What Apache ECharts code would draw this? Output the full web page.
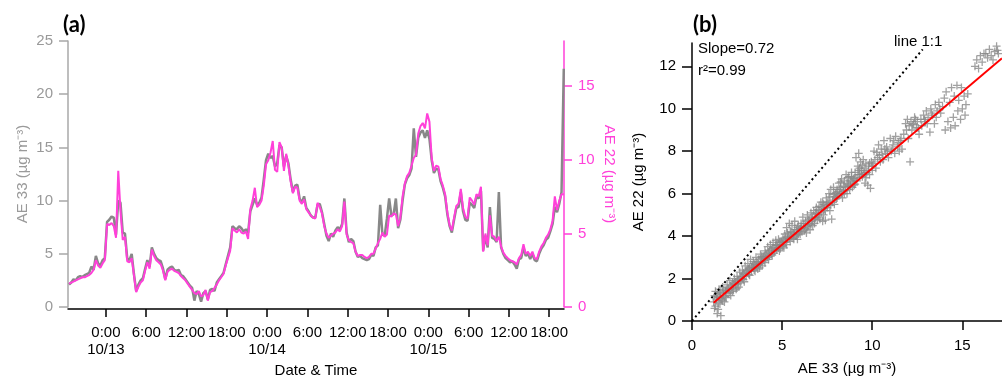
<!DOCTYPE html>
<html>
<head>
<meta charset="utf-8">
<script src="https://cdn.jsdelivr.net/npm/echarts@6.0.0/dist/echarts.min.js"></script>
<style>
  html, body { margin: 0; padding: 0; background: #ffffff; }
  #chart { width: 1002px; height: 379px; }
</style>
</head>
<body>
<div id="chart"></div>
<script>
// ---- Time series: black carbon from two aethalometers, 20-minute samples ----
// hours relative to 10/13 0:00
const timeStartHour = -5.5;
const timeStepHour = 1 / 3;

// AE33 (µg m-3), left axis
const ae33 = [
  2.1, 2.3, 2.6, 2.5, 2.8, 2.9, 2.8, 3.0, 3.1, 3.2,
  3.8, 3.5, 4.8, 4.1, 3.9, 4.4, 4.6, 8.0, 8.2, 8.5,
  8.4, 6.8, 10.0, 9.8, 7.0, 6.9, 4.6, 4.4, 5.0, 3.1,
  1.5, 2.1, 2.5, 2.7, 3.6, 4.4, 3.8, 5.6, 5.0, 4.6,
  4.4, 4.3, 3.6, 2.6, 3.5, 3.7, 3.8, 3.5, 3.4, 3.5,
  3.0, 2.9, 2.6, 2.3, 2.0, 1.8, 0.6, 1.5, 1.2, 0.5,
  1.3, 1.5, 0.7, 1.6, 1.7, 1.5, 2.3, 2.6, 2.9, 3.2,
  4.0, 4.8, 5.6, 7.6, 7.4, 7.3, 7.6, 7.4, 7.1, 7.3,
  7.0, 9.0, 9.6, 10.2, 9.6, 9.8, 10.3, 12.0, 13.8, 14.4,
  14.0, 14.2, 13.2, 13.5, 15.2, 15.0, 13.2, 14.2, 13.5, 12.0,
  10.8, 11.4, 11.5, 10.2, 9.8, 10.4, 9.3, 9.0, 8.6, 8.4,
  8.4, 9.6, 9.7, 8.9, 7.8, 6.7, 6.2, 6.9, 6.6, 7.2,
  7.5, 7.3, 7.8, 10.2, 7.0, 6.1, 6.4, 6.2, 5.2, 4.7,
  4.8, 4.6, 4.5, 4.4, 4.5, 4.9, 4.8, 5.6, 5.8, 9.6,
  6.8, 6.7, 8.3, 10.2, 8.6, 8.7, 10.2, 7.4, 8.2, 10.0,
  11.5, 12.1, 12.4, 13.0, 16.8, 14.1, 15.9, 16.4, 16.6, 15.9,
  16.6, 15.8, 13.8, 12.6, 13.0, 12.9, 11.8, 11.2, 10.4, 8.7,
  7.6, 7.0, 8.2, 9.3, 9.4, 10.8, 9.0, 8.2, 8.1, 9.8,
  9.6, 9.3, 10.4, 10.2, 10.9, 5.3, 6.7, 5.6, 9.4, 6.5,
  6.4, 6.1, 10.8, 5.6, 5.0, 4.6, 4.4, 4.2, 4.3, 4.0,
  3.6, 4.5, 4.6, 5.6, 4.8, 5.0, 4.5, 5.0, 4.4, 4.3,
  5.0, 5.5, 5.8, 6.3, 6.5, 7.1, 7.8, 9.4, 8.9, 9.7,
  10.8, 22.4
];

// AE22 (µg m-3), right axis
const ae22 = [
  1.59, 1.66, 1.73, 1.81, 1.88, 1.95, 2.02, 2.02, 2.10, 2.17,
  2.31, 2.53, 3.18, 2.82, 2.67, 2.96, 3.18, 5.64, 5.57, 5.71,
  5.49, 4.70, 9.25, 6.51, 4.55, 4.77, 3.11, 3.04, 3.32, 2.17,
  1.01, 1.37, 1.66, 1.81, 2.46, 3.04, 2.60, 3.90, 3.47, 3.18,
  3.04, 2.89, 2.46, 1.81, 2.39, 2.53, 2.60, 2.46, 2.39, 2.31,
  2.10, 1.95, 1.81, 1.59, 1.37, 1.16, 0.94, 0.87, 1.08, 0.72,
  0.80, 1.16, 0.43, 1.01, 1.08, 1.30, 1.52, 1.81, 2.02, 2.24,
  2.82, 3.32, 3.83, 5.35, 5.20, 5.06, 5.28, 5.06, 4.99, 5.13,
  4.63, 6.65, 7.23, 8.10, 6.79, 6.94, 7.23, 8.24, 9.69, 9.97,
  10.48, 11.28, 9.32, 9.18, 11.20, 10.84, 9.25, 10.41, 9.61, 8.53,
  7.73, 8.17, 8.10, 7.23, 7.01, 7.30, 6.65, 6.43, 6.22, 6.07,
  6.00, 7.08, 6.79, 6.36, 5.49, 4.99, 4.70, 4.84, 4.99, 5.06,
  5.28, 5.13, 5.49, 7.16, 4.92, 4.55, 4.41, 4.34, 3.76, 3.47,
  3.54, 3.54, 3.40, 3.32, 3.40, 3.61, 3.61, 3.98, 4.34, 4.63,
  5.06, 4.77, 4.92, 6.22, 6.14, 6.36, 6.29, 5.49, 6.07, 7.52,
  8.38, 8.89, 9.11, 9.61, 10.12, 10.34, 11.78, 12.29, 12.50, 12.14,
  13.15, 12.58, 10.12, 9.25, 9.61, 9.54, 8.67, 8.24, 7.66, 6.43,
  5.57, 5.20, 6.07, 6.87, 7.01, 8.02, 6.72, 6.14, 6.00, 7.44,
  7.23, 6.94, 7.66, 7.52, 8.17, 3.76, 4.99, 4.19, 6.22, 4.84,
  4.77, 4.48, 4.77, 4.12, 3.69, 3.47, 3.32, 3.18, 3.11, 3.04,
  2.89, 3.32, 3.54, 4.26, 3.61, 3.76, 3.47, 3.76, 3.32, 3.25,
  3.76, 4.12, 4.34, 4.70, 4.92, 5.28, 5.85, 7.52, 6.58, 7.23,
  7.66, 7.66
];

const timeTickHours = [0, 6, 12, 18, 24, 30, 36, 42, 48, 54, 60, 66];
const timeTickLabels = [
  '0:00\n10/13', '6:00', '12:00', '18:00',
  '0:00\n10/14', '6:00', '12:00', '18:00',
  '0:00\n10/15', '6:00', '12:00', '18:00'
];
const ae33Ticks = [0, 5, 10, 15, 20, 25];
const ae22Ticks = [0, 5, 10, 15];

// ---- Scatter: AE33 vs AE22, [AE33, AE22] pairs ----
const scatterPairs = [
  [1.2,0.9],[1.25,1.2],[1.3,0.7],[1.3,1.4],[1.35,1.0],[1.4,0.35],[1.45,0.55],[1.5,1.1],[1.5,1.5],[1.55,0.8],
  [1.6,1.3],[1.6,0.25],[1.65,1.0],[1.7,1.6],[1.75,1.2],[1.8,0.9],[1.85,1.4],[1.9,1.1],[1.95,1.7],[2.0,1.3],
  [2.05,1.5],[2.1,1.9],[2.15,1.2],[2.2,1.6],[2.25,1.8],[2.3,1.45],[2.35,2.0],[2.4,1.7],[2.45,1.5],[2.5,2.1],
  [2.55,1.75],[2.6,1.9],[2.65,2.3],[2.7,1.8],[2.75,2.1],[2.8,2.4],[2.85,1.95],[2.9,2.2],[2.95,2.6],[3.0,2.1],
  [3.05,2.4],[3.1,2.7],[3.15,2.2],[3.2,2.5],[3.25,2.9],[3.3,2.35],[3.35,2.6],[3.4,2.8],[3.45,2.4],[3.5,2.65],
  [3.55,3.0],[3.6,2.55],[3.65,2.75],[3.7,2.9],[3.75,2.5],[3.8,3.15],[3.85,2.8],[3.9,2.6],[3.95,3.0],[4.0,2.85],
  [4.05,3.3],[4.1,2.95],[4.15,3.1],[4.2,3.5],[4.25,2.9],[4.3,3.3],[4.35,3.6],[4.4,3.15],[4.45,3.4],[4.5,3.7],
  [4.55,3.2],[4.6,3.45],[4.65,3.8],[4.7,3.35],[4.75,3.55],[4.8,3.85],[4.85,3.3],[4.9,3.6],[4.95,3.75],[5.0,3.5],
  [5.05,3.9],[5.1,3.45],[5.15,4.1],[5.2,3.7],[5.25,4.4],[5.3,3.85],[5.35,4.0],[5.4,4.6],[5.45,3.75],[5.5,4.2],
  [5.55,4.5],[5.6,3.9],[5.65,4.1],[5.7,4.7],[5.75,4.0],[5.8,4.3],[5.85,3.85],[5.9,4.5],[5.95,4.2],[6.0,4.35],
  [6.05,4.6],[6.1,4.2],[6.15,4.9],[6.2,4.4],[6.3,4.7],[6.35,4.15],[6.4,5.0],[6.45,4.5],[6.5,4.8],[6.55,4.3],
  [6.6,5.1],[6.65,4.7],[6.7,4.5],[6.75,5.2],[6.8,4.6],[6.85,4.9],[6.9,5.35],[6.95,4.75],[7.0,5.0],
  [7.05,5.4],[7.1,4.8],[7.15,5.6],[7.2,5.1],[7.25,4.7],[7.3,5.5],[7.35,5.3],[7.4,4.75],[7.45,5.8],[7.5,5.35],
  [7.55,5.6],[7.6,6.0],[7.65,5.2],[7.7,6.2],[7.75,4.8],[7.8,5.7],[7.85,6.3],[7.9,5.5],[7.95,6.0],[8.0,5.75],
  [8.05,6.2],[8.1,5.9],[8.15,6.5],[8.2,6.0],[8.25,6.3],[8.3,6.7],[8.35,5.8],[8.4,6.1],[8.45,6.6],[8.5,6.3],
  [8.55,6.9],[8.6,6.0],[8.65,6.4],[8.7,6.8],[8.75,6.2],[8.8,6.6],[8.85,7.0],[8.9,6.3],[8.95,6.7],[9.0,6.4],
  [9.05,7.0],[9.1,7.7],[9.15,6.6],[9.2,7.3],[9.25,7.9],[9.3,6.9],[9.35,7.5],[9.4,7.1],[9.45,6.8],[9.5,7.6],
  [9.55,7.2],[9.6,6.5],[9.65,7.4],[9.7,7.0],[9.75,6.4],[9.8,7.3],[9.85,6.9],[9.9,6.25],[9.95,7.5],[10.0,7.1],
  [10.05,7.4],[10.1,8.0],[10.2,7.2],[10.3,7.7],[10.35,8.3],[10.45,7.5],[10.5,8.1],[10.6,7.6],[10.65,8.5],[10.75,7.9],
  [10.8,8.2],[10.9,7.7],[11.0,8.6],[11.05,8.0],
  [11.15,8.3],[11.25,7.9],[11.3,8.7],[11.4,8.2],[11.5,8.0],[11.55,8.5],[11.65,8.1],[11.75,8.8],[11.85,9.3],[11.9,9.0],
  [11.95,9.5],[12.0,8.6],[12.1,7.5],
  [12.05,9.2],[12.15,9.4],[12.2,9.0],[12.3,9.3],[12.35,9.6],[12.45,9.1],[12.5,9.4],[12.6,8.8],[12.7,9.5],[12.75,9.2],
  [12.85,9.7],[12.95,9.4],[13.0,9.9],[13.1,9.6],[13.2,8.9],[13.25,10.0],[13.35,9.7],[13.45,9.3],[13.5,10.2],[13.6,9.9],
  [13.7,10.3],[13.8,9.8],[13.9,10.1],
  [14.0,10.5],[14.05,9.0],[14.1,10.8],[14.2,9.4],[14.3,10.3],[14.35,9.1],[14.4,11.0],[14.5,9.6],[14.55,10.6],[14.6,9.2],
  [14.7,11.1],[14.75,9.9],[14.8,10.4],[14.9,9.5],[14.95,11.0],[15.0,10.0],[15.1,10.6],[15.15,9.7],[15.2,10.2],[15.3,10.7],
  [15.7,12.0],[15.8,12.3],[15.9,11.9],[16.0,12.5],[16.1,12.2],[16.2,12.6],[16.4,12.4],[16.5,12.8],[16.6,12.5],[16.8,12.7],
  [16.9,12.95],[17.0,12.6],
  [1.25,0.6],[1.4,1.25],[1.55,1.35],[1.7,0.95],[1.9,1.45],[2.1,1.35],[2.3,1.75],[2.5,1.55],[2.7,2.05],[2.9,1.85],
  [3.1,2.3],[3.3,2.55],[3.5,2.35],[3.7,2.65],[3.9,2.95],[4.1,3.2],[4.3,3.05],[4.5,3.45],[4.7,3.6],[4.9,3.4],
  [5.1,3.8],[5.3,4.15],[5.5,3.95],[5.7,4.3],[5.9,4.1],[6.1,4.45],[6.3,4.35],[6.5,4.6],[6.7,4.85],[6.9,5.05],
  [7.1,5.2],[7.3,5.0],[7.5,5.55],[7.7,5.45],[7.9,5.85],[8.1,6.1],[8.3,6.0],[8.5,6.15],[8.7,6.45],[8.9,6.55],
  [9.1,6.75],[9.3,7.2],[9.5,6.95],
  [1.35,1.15],[1.45,0.85],[1.6,1.05],[1.75,1.45],[1.85,1.15],[2.0,1.55],[2.15,1.65],[2.25,1.4],[2.4,1.85],[2.55,1.95],
  [2.6,1.6],[2.8,2.0],[2.85,2.25],[3.0,2.35],[3.15,2.45],[3.2,2.15],[3.4,2.5],[3.45,2.7],[3.6,2.8],[3.65,2.45],
  [3.8,2.7],[3.85,3.05],[4.0,3.05],[4.05,2.75],[4.2,3.0],[4.25,3.25],[4.4,3.35],[4.45,3.1],[4.6,3.3],[4.65,3.55],
  [4.8,3.45],[4.85,3.7],[5.0,3.7],[5.05,3.55],[5.2,3.95],[5.25,3.6],[5.4,3.9],[5.45,4.2],[5.6,4.15],[5.65,3.85],
  [5.8,4.05],[5.85,4.4],[6.0,4.1],[6.05,4.35],[6.2,4.6],[6.25,4.25],[6.4,4.45],[6.45,4.75],[6.6,4.55],[6.65,4.9],
  [6.8,4.8],[6.85,5.1],[7.0,5.25],[7.05,4.9],[7.2,5.35],[7.25,5.6],[7.4,5.2],[7.45,5.45],[7.6,5.5],[7.65,5.85],
  [7.8,5.6],[7.85,5.95],[8.0,6.05],[8.05,5.8],[8.2,6.2],[8.25,6.55],[8.4,6.35],[8.45,6.0],[8.6,6.5],[8.65,6.75],
  [8.8,6.35],[8.85,6.8],[9.0,6.7],[9.05,6.45],[9.2,6.9],[9.25,7.1],[9.4,6.9],[9.45,7.35],[9.6,7.0],[9.65,6.75],
  [9.8,7.1],[9.85,7.45],[10.0,7.3],[10.15,7.6],[10.25,7.95],[10.4,7.8],[10.55,7.85],[10.7,8.1],[10.85,8.0],[11.1,8.1],
  [11.2,8.5],[11.45,8.4],[11.6,8.6],[12.25,9.25],[12.4,9.5],[12.55,9.1],[12.9,9.5],[13.05,9.3],[13.3,9.8],[13.55,9.6],
  [13.75,10.0],[16.3,12.6],[16.7,12.3],[16.95,12.75]
];

// linear fit and 1:1 reference
const fitSlope = 0.72;
const fitIntercept = 0.0;
const fitR2 = 0.99;
const fitRangeAE33 = [1.2, 17.2];
const oneToOneEnd = 12.8;

const scatterXTicks = [0, 5, 10, 15];
const scatterYTicks = [0, 2, 4, 6, 8, 10, 12];

const GRAY = '#888888';
const PINK = '#ff40d9';
const FONT = 'Liberation Sans';

// "+" marker drawn as a filled cross
const plusSymbol = 'path://M4.2,0H5.8V4.2H10V5.8H5.8V10H4.2V5.8H0V4.2H4.2Z';

const chart = echarts.init(document.getElementById('chart'), null, { renderer: 'canvas' });

const tsData = (arr) => arr.map((v, i) => [timeStartHour + i * timeStepHour, v]);

chart.setOption({
  animation: false,
  textStyle: { fontFamily: FONT },
  grid: [
    { left: 68, top: 41, width: 496, height: 266, containLabel: false, outerBoundsMode: 'none' },
    { left: 692, top: 43, width: 310, height: 278, containLabel: false, outerBoundsMode: 'none' }
  ],
  xAxis: [
    {
      gridIndex: 0, type: 'value', min: -5.65, max: 68.2, offset: 2,
      axisLine: { onZero: false, lineStyle: { color: '#000', width: 1.5 } },
      axisTick: { customValues: timeTickHours, length: 8, lineStyle: { color: '#000', width: 1.5 } },
      axisLabel: {
        customValues: timeTickHours,
        formatter: (v) => timeTickLabels[timeTickHours.indexOf(v)],
        color: '#000', fontSize: 15, lineHeight: 17, margin: 15, fontFamily: FONT
      },
      splitLine: { show: false },
      name: 'Date & Time', nameLocation: 'middle', nameGap: 52,
      nameTextStyle: { color: '#000', fontSize: 15, fontFamily: FONT }
    },
    {
      gridIndex: 1, type: 'value', min: 0, max: 17.2,
      axisLine: { onZero: false, lineStyle: { color: '#000', width: 1.5 } },
      axisTick: { customValues: scatterXTicks, length: 9, lineStyle: { color: '#000', width: 1.5 } },
      axisLabel: { customValues: scatterXTicks, color: '#000', fontSize: 15, margin: 17, fontFamily: FONT },
      splitLine: { show: false },
      name: 'AE 33 (µg m⁻³)', nameLocation: 'middle', nameGap: 40,
      nameTextStyle: { color: '#000', fontSize: 15, fontFamily: FONT }
    }
  ],
  yAxis: [
    {
      gridIndex: 0, type: 'value', min: 0, max: 25,
      axisLine: { show: true, onZero: false, lineStyle: { color: '#a8a8a8', width: 1.5 } },
      axisTick: { show: true, customValues: ae33Ticks, length: 9, lineStyle: { color: '#a8a8a8', width: 1.5 } },
      axisLabel: { customValues: ae33Ticks, color: '#9a9a9a', fontSize: 15, margin: 15, fontFamily: FONT },
      splitLine: { show: false },
      name: 'AE 33 (µg m⁻³)', nameLocation: 'middle', nameGap: 38,
      nameTextStyle: { color: '#9a9a9a', fontSize: 15, fontFamily: FONT }
    },
    {
      gridIndex: 0, type: 'value', min: 0, max: 18.07, position: 'right',
      axisLine: { show: true, onZero: false, lineStyle: { color: PINK, width: 1.5 } },
      axisTick: { show: true, customValues: ae22Ticks, length: 8, lineStyle: { color: PINK, width: 1.5 } },
      axisLabel: { customValues: ae22Ticks, color: PINK, fontSize: 15, margin: 14, fontFamily: FONT },
      splitLine: { show: false },
      name: 'AE 22 (µg m⁻³)', nameLocation: 'middle', nameGap: 38, nameRotate: -90,
      nameTextStyle: { color: PINK, fontSize: 15, fontFamily: FONT }
    },
    {
      gridIndex: 1, type: 'value', min: 0, max: 13.1,
      axisLine: { show: true, onZero: false, lineStyle: { color: '#000', width: 1.5 } },
      axisTick: { show: true, customValues: scatterYTicks, length: 10, lineStyle: { color: '#000', width: 1.5 } },
      axisLabel: { customValues: scatterYTicks, color: '#000', fontSize: 15, margin: 16, fontFamily: FONT },
      splitLine: { show: false },
      name: 'AE 22 (µg m⁻³)', nameLocation: 'middle', nameGap: 46,
      nameTextStyle: { color: '#000', fontSize: 15, fontFamily: FONT }
    }
  ],
  series: [
    {
      name: 'AE 33', type: 'line', xAxisIndex: 0, yAxisIndex: 0,
      data: tsData(ae33), showSymbol: false, symbol: 'none', z: 2,
      lineStyle: { color: GRAY, width: 2.5 }
    },
    {
      name: 'AE 22', type: 'line', xAxisIndex: 0, yAxisIndex: 1,
      data: tsData(ae22), showSymbol: false, symbol: 'none', z: 3,
      lineStyle: { color: PINK, width: 2 }
    },
    {
      name: 'AE 33 vs AE 22', type: 'scatter', xAxisIndex: 1, yAxisIndex: 2,
      data: scatterPairs, symbol: plusSymbol, symbolSize: 8, z: 2,
      itemStyle: { color: '#8a8a8a' }
    },
    {
      name: 'line 1:1', type: 'line', xAxisIndex: 1, yAxisIndex: 2,
      data: [[0, 0], [oneToOneEnd, oneToOneEnd]], symbol: 'none', z: 3,
      lineStyle: { color: '#000', width: 2, type: [2, 3] }
    },
    {
      name: 'fit', type: 'line', xAxisIndex: 1, yAxisIndex: 2,
      data: fitRangeAE33.map((x) => [x, fitSlope * x + fitIntercept]), symbol: 'none', z: 4,
      lineStyle: { color: '#ff0000', width: 2 }
    }
  ],
  graphic: [
    { type: 'text', left: 63, top: 14, style: { text: '(a)', font: 'bold 22px Lato', fill: '#000' } },
    { type: 'text', left: 693, top: 14, style: { text: '(b)', font: 'bold 22px Lato', fill: '#000' } },
    { type: 'text', left: 698, top: 41, style: { text: 'Slope=' + fitSlope.toFixed(2), font: '15px "Liberation Sans"', fill: '#000' } },
    { type: 'text', left: 698, top: 63, style: { text: 'r²=' + fitR2.toFixed(2), font: '15px "Liberation Sans"', fill: '#000' } },
    { type: 'text', left: 894, top: 34, style: { text: 'line 1:1', font: '15px "Liberation Sans"', fill: '#000' } }
  ]
});
</script>
</body>
</html>
